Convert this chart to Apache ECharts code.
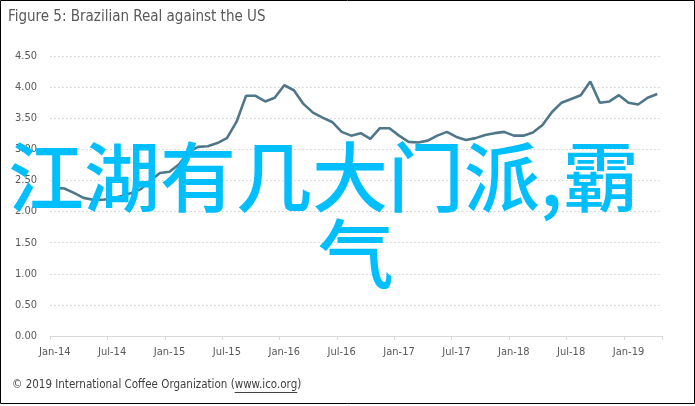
<!DOCTYPE html>
<html>
<head>
<meta charset="utf-8">
<script src="https://cdn.jsdelivr.net/npm/echarts@6/dist/echarts.min.js"></script>
<style>
html,body{margin:0;padding:0;background:#fff;}
#chart{width:695px;height:406px;}
</style>
</head>
<body>
<div id="chart"></div>
<script>
// ---- data ----
var monthNames = ['Jan','Feb','Mar','Apr','May','Jun','Jul','Aug','Sep','Oct','Nov','Dec'];
var years = ['14','15','16','17','18','19'];
var monthCount = 64; // Jan-14 .. Apr-19
var yTicks = [0, 0.5, 1, 1.5, 2, 2.5, 3, 3.5, 4, 4.5];

// BRL per USD, monthly
var v2014 = [2.38, 2.37, 2.30, 2.22, 2.19, 2.19, 2.21, 2.25, 2.30, 2.36, 2.50, 2.62];
var v2015 = [2.64, 2.76, 2.96, 3.04, 3.05, 3.10, 3.18, 3.44, 3.86, 3.86, 3.77, 3.83];
var v2016 = [4.03, 3.95, 3.73, 3.59, 3.51, 3.44, 3.28, 3.22, 3.26, 3.17, 3.34, 3.34];
var v2017 = [3.22, 3.12, 3.11, 3.14, 3.22, 3.28, 3.20, 3.15, 3.18, 3.23, 3.26, 3.28];
var v2018 = [3.22, 3.22, 3.27, 3.39, 3.60, 3.75, 3.81, 3.87, 4.09, 3.75, 3.77, 3.87];
var v2019 = [3.75, 3.72, 3.83, 3.89];

var titleText = 'Figure 5: Brazilian Real against the US';
var footerPrefix = '\u00a9 2019 International Coffee Organization (';
var footerLink = 'www.ico.org';
var footerSuffix = ')';
var overlayLine1 = '江湖有几大门派,霸';
var overlayLine2 = '气';

// ---- build ----
var categories = [];
for (var i = 0; i < monthCount; i++) {
  categories.push(monthNames[i % 12] + '-' + years[Math.floor(i / 12)]);
}
var values = [].concat(v2014, v2015, v2016, v2017, v2018, v2019);

var uiFont = 'Liberation Sans Narrow, Arial Narrow, DejaVu Sans Condensed, sans-serif';
var footerSize = 11.5;
var footerX = 12;
// measure footer pieces to place the link underline
var cv = document.createElement('canvas').getContext('2d');
cv.font = footerSize + 'px ' + uiFont;
var linkStart = footerX + cv.measureText(footerPrefix).width;
var linkEnd = linkStart + cv.measureText(footerLink).width;

var chart = echarts.init(document.getElementById('chart'), null, {renderer: 'canvas'});
var labelColor = '#595959';
var option = {
  animation: false,
  backgroundColor: '#ffffff',
  grid: {left: 50, right: 33, top: 56, bottom: 70, containLabel: false},
  xAxis: {
    type: 'category',
    data: categories,
    boundaryGap: true,
    axisLine: {show: true, lineStyle: {color: '#d9d9d9', width: 1}},
    axisTick: {show: true, interval: 5, length: 4, lineStyle: {color: '#d9d9d9'}},
    axisLabel: {interval: 5, color: labelColor, fontSize: 11, margin: 11, fontFamily: uiFont},
    splitLine: {show: false}
  },
  yAxis: {
    type: 'value',
    min: yTicks[0],
    max: yTicks[yTicks.length - 1],
    interval: 0.5,
    axisLine: {show: false},
    axisTick: {show: false},
    axisLabel: {color: labelColor, fontSize: 11, margin: 13, fontFamily: uiFont,
      formatter: function (v) { return v.toFixed(2); }},
    splitLine: {show: true, lineStyle: {color: '#cfcfcf', type: [1.5, 2.5], width: 1.2}}
  },
  series: [{
    type: 'line',
    data: values,
    symbol: 'none',
    smooth: false,
    lineStyle: {color: '#4f7789', width: 2.6},
    z: 3
  }],
  graphic: [
    {type: 'rect', shape: {x: 0.5, y: 0.5, width: 694, height: 403}, style: {fill: 'none', stroke: '#000', lineWidth: 1}, z: 10, silent: true},
    {type: 'text', left: 8, top: 10, style: {text: titleText, fill: '#595959', fontSize: 15, fontFamily: uiFont}},
    {type: 'text', x: footerX, y: 385, style: {text: footerPrefix + footerLink + footerSuffix, fill: '#404040',
      fontSize: footerSize, fontFamily: uiFont, textVerticalAlign: 'middle'}},
    {type: 'line', shape: {x1: linkStart, y1: 392.5, x2: linkEnd, y2: 392.5}, style: {stroke: '#404040', lineWidth: 1}},
    {type: 'text', x: 8, y: 177, z: 20, style: {text: overlayLine1, fill: '#00bfff', fontSize: 76, fontWeight: 500,
      textVerticalAlign: 'middle', fontFamily: 'Noto Sans CJK SC, sans-serif'}},
    {type: 'text', x: 318, y: 254, z: 20, style: {text: overlayLine2, fill: '#00bfff', fontSize: 76, fontWeight: 500,
      textVerticalAlign: 'middle', fontFamily: 'Noto Sans CJK SC, sans-serif'}}
  ]
};
chart.setOption(option);
</script>
</body>
</html>
